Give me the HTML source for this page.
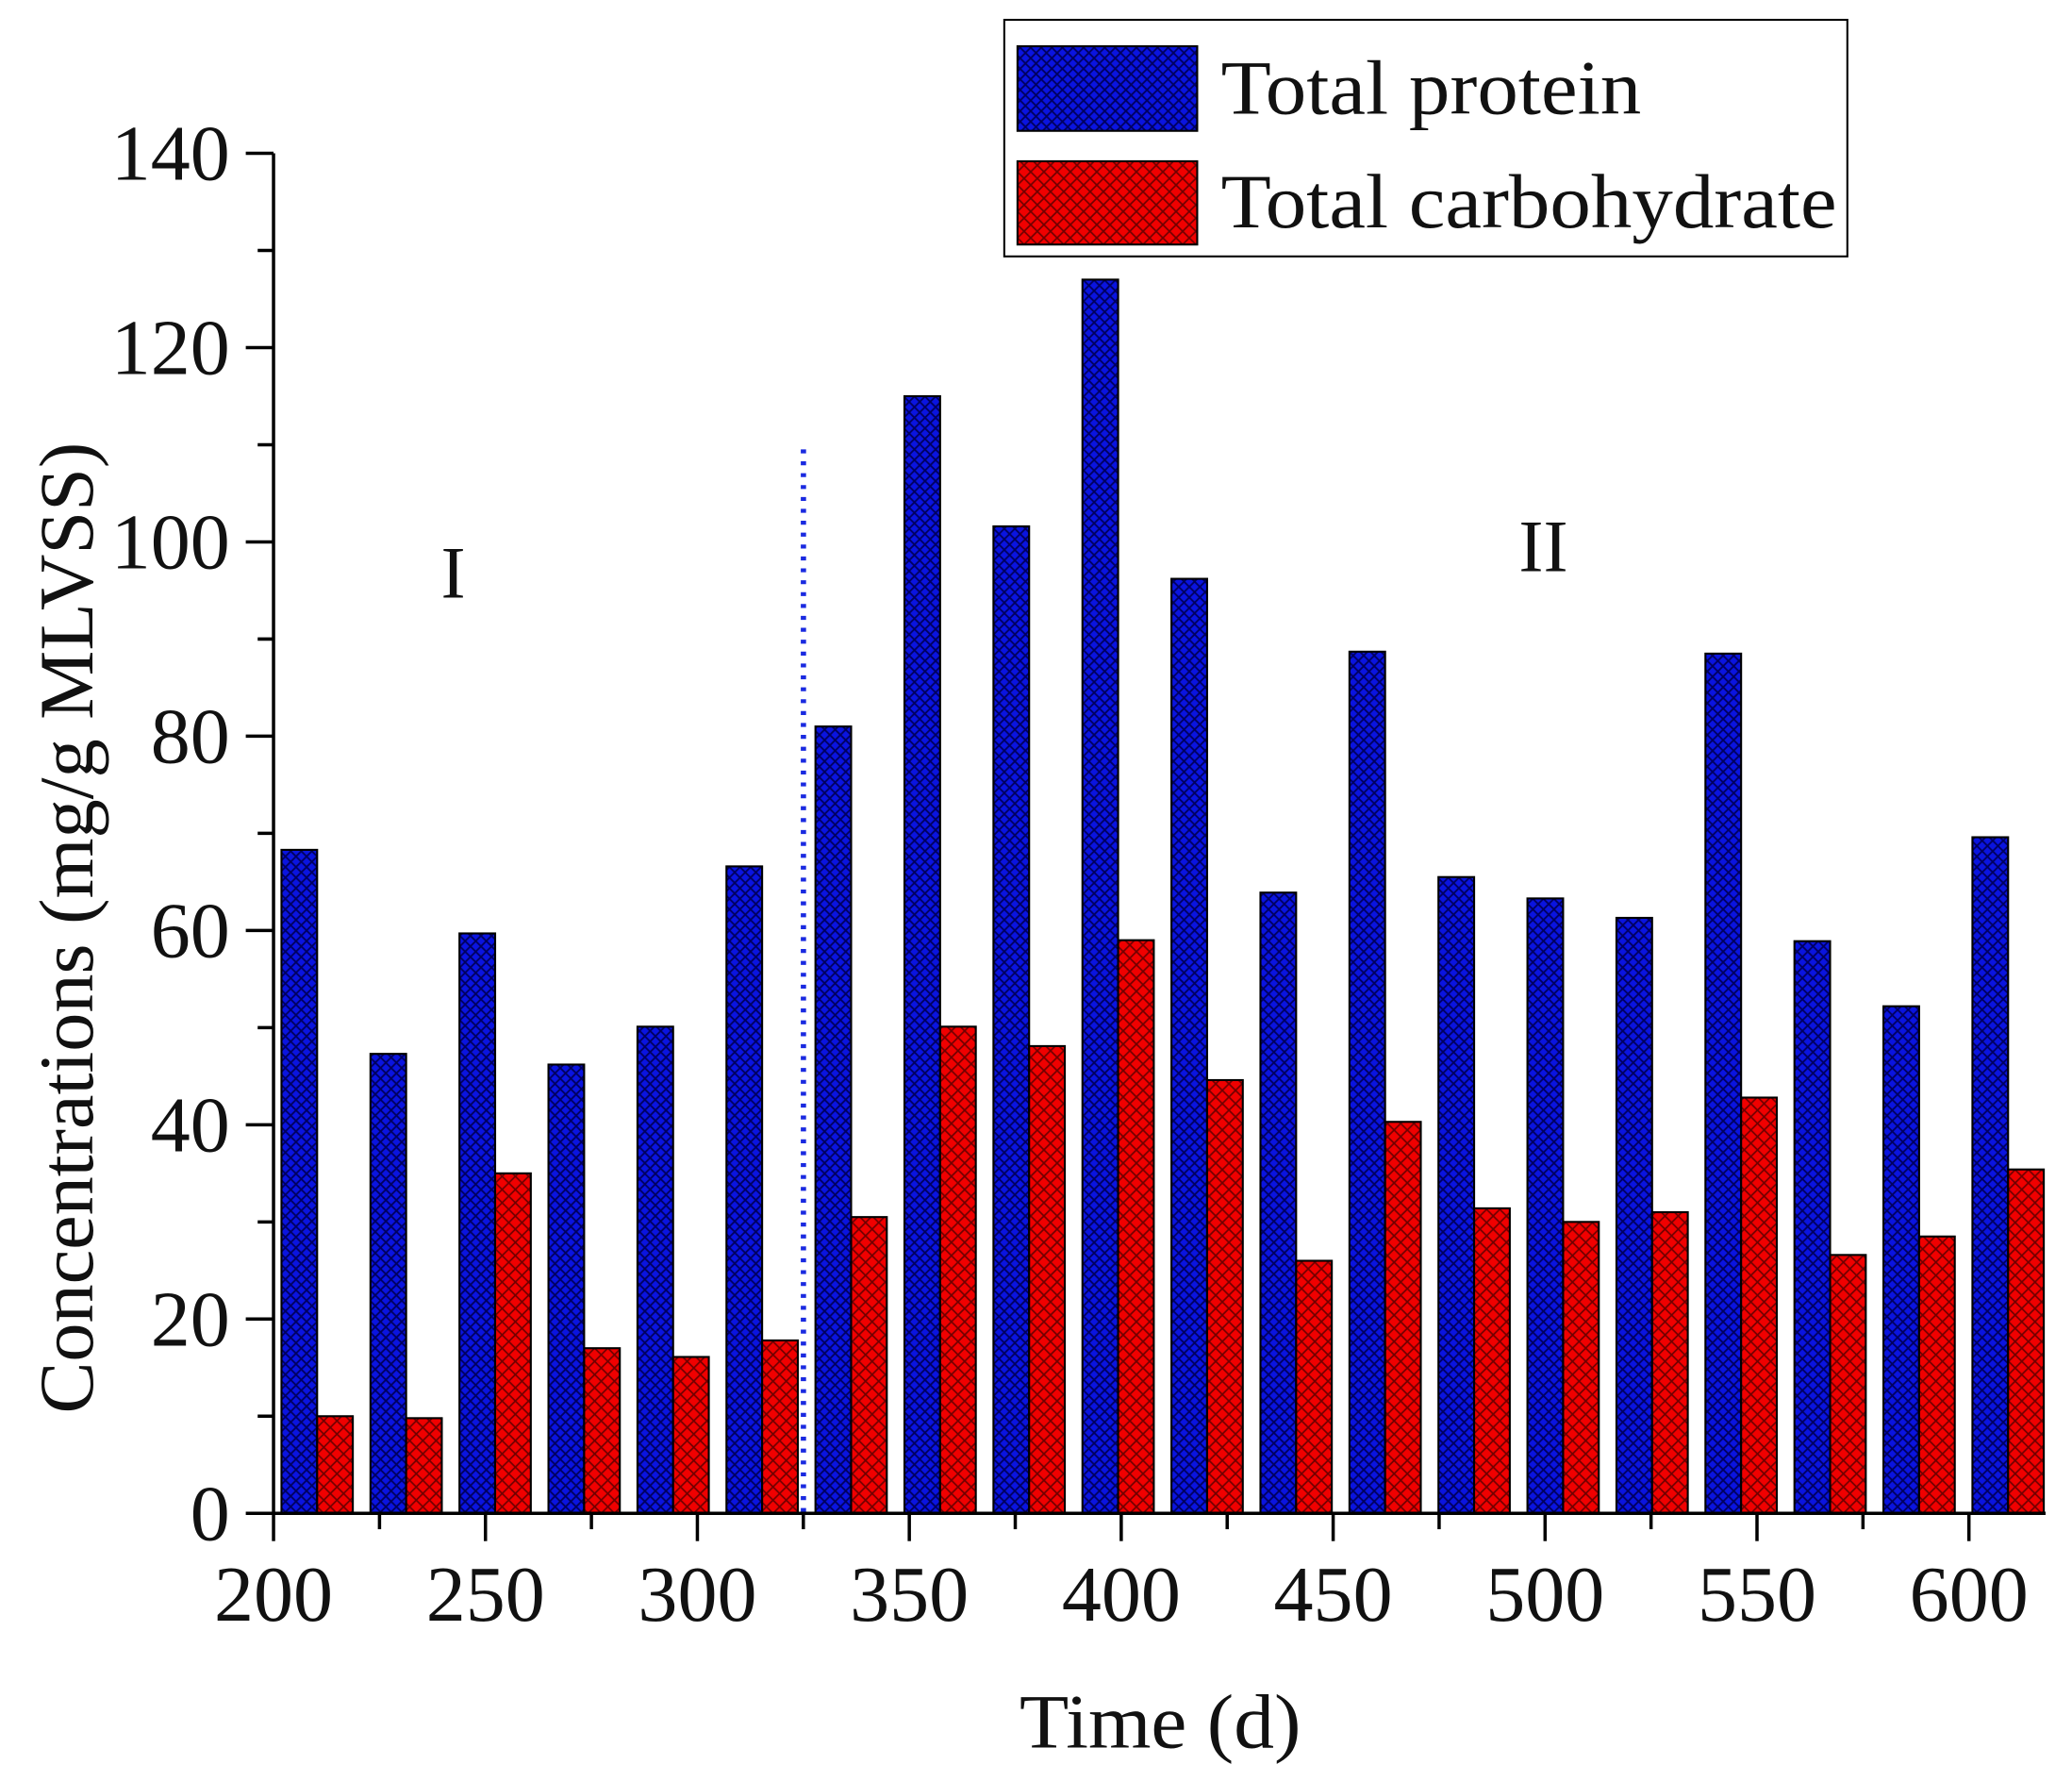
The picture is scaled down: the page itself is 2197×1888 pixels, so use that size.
<!DOCTYPE html>
<html><head><meta charset="utf-8"><style>html,body{margin:0;padding:0;background:#fff}svg{display:block}</style></head>
<body>
<svg width="2197" height="1888" viewBox="0 0 1568 1347.5" preserveAspectRatio="none" xmlns="http://www.w3.org/2000/svg" font-family="Liberation Serif, serif">
<defs>
<pattern id="hb" width="8" height="8" patternUnits="userSpaceOnUse">
<rect width="8" height="8" fill="#0a14e0"/>
<path d="M0,0L8,8M8,0L0,8" stroke="#000060" stroke-width="1.3"/>
</pattern>
<pattern id="hr" width="10" height="10" patternUnits="userSpaceOnUse">
<rect width="10" height="10" fill="#f00000"/>
<path d="M0,0L10,10M10,0L0,10" stroke="#700000" stroke-width="1.2"/>
</pattern>
</defs>
<g id="bars" stroke="#000" stroke-width="1.5"></g>
<line x1="608" y1="340" x2="608" y2="1145" stroke="#1a2ae0" stroke-width="4" stroke-dasharray="3,6"/>
<g stroke="#000" stroke-width="2.5" fill="none">
<line x1="207" y1="116" x2="207" y2="1145"/>
<line x1="207" y1="1145" x2="1548" y2="1145"/>
</g>
<g id="ticks" stroke="#000" stroke-width="2.5"></g>
<g id="labels" font-size="60" fill="#111"></g>
<text x="878" y="1322" font-size="58" text-anchor="middle" fill="#111" textLength="213" lengthAdjust="spacingAndGlyphs">Time (d)</text>
<text transform="translate(70,702) rotate(-90)" font-size="58" text-anchor="middle" fill="#111" textLength="735" lengthAdjust="spacingAndGlyphs">Concentrations (mg/g MLVSS)</text>
<text x="343" y="452" font-size="56" text-anchor="middle" fill="#111">I</text>
<text x="1168" y="432" font-size="56" text-anchor="middle" fill="#111">II</text>
<rect x="760" y="15" width="638" height="179" fill="#fff" stroke="#000" stroke-width="1.5"/>
<rect x="770" y="35" width="136" height="64" fill="url(#hb)" stroke="#000" stroke-width="1.5"/>
<rect x="770" y="122" width="136" height="63" fill="url(#hr)" stroke="#000" stroke-width="1.5"/>
<text x="924" y="86" font-size="58" fill="#111" textLength="318" lengthAdjust="spacingAndGlyphs">Total protein</text>
<text x="924" y="172" font-size="58" fill="#111" textLength="466" lengthAdjust="spacingAndGlyphs">Total carbohydrate</text>
<script>
var P=[68.3,47.3,59.7,46.2,50.1,66.6,81,115,101.6,127,96.2,63.9,88.7,65.5,63.3,61.3,88.5,58.9,52.2,69.6];
var C=[10,9.8,35,17,16.1,17.8,30.5,50.1,48.1,59,44.6,26,40.3,31.4,30,31,42.8,26.6,28.5,35.4];
var ns="http://www.w3.org/2000/svg",b=document.getElementById('bars'),t=document.getElementById('ticks'),l=document.getElementById('labels');
function y(v){return 1145-v*7.35}
function el(p,tag,a){var e=document.createElementNS(ns,tag);for(var k in a)e.setAttribute(k,a[k]);p.appendChild(e);return e}
for(var i=0;i<20;i++){var x=213+i*67.35;
el(b,'rect',{x:x,y:y(P[i]),width:27,height:P[i]*7.35,fill:'url(#hb)'});
el(b,'rect',{x:x+27,y:y(C[i]),width:27,height:C[i]*7.35,fill:'url(#hr)'});}
for(var v=0;v<=140;v+=10){var maj=v%20==0;el(t,'line',{x1:207,x2:maj?186:195,y1:y(v),y2:y(v)});
if(maj){var e=el(l,'text',{x:174,y:y(v)+20,'text-anchor':'end'});e.textContent=v;}}
for(var d=200;d<=625;d+=25){var xx=207+(d-200)*3.2075,maj=d%50==0;el(t,'line',{x1:xx,x2:xx,y1:1145,y2:maj?1166:1157});
if(maj){var e=el(l,'text',{x:xx,y:1226,'text-anchor':'middle'});e.textContent=d;}}
</script>
</svg>
</body></html>
